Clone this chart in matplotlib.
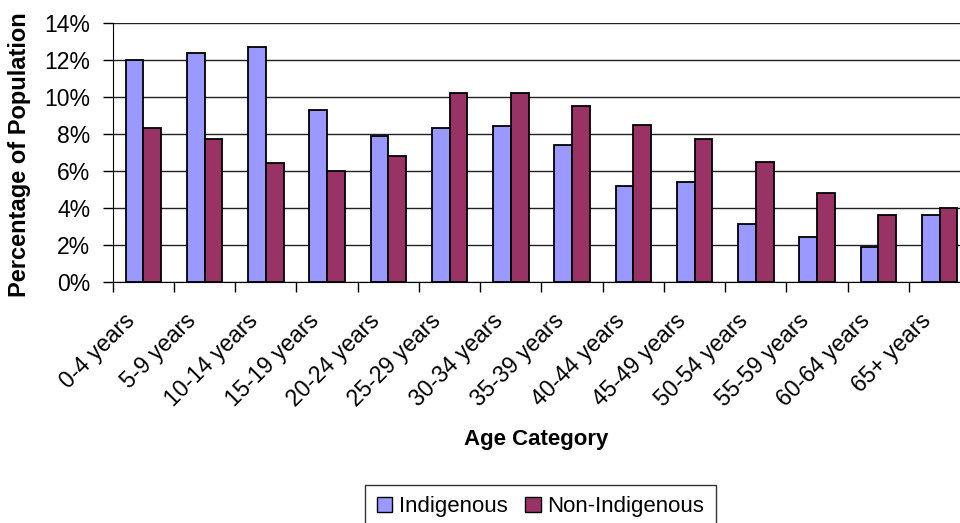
import matplotlib
matplotlib.use("Agg")
import matplotlib.pyplot as plt
import matplotlib.transforms as mtransforms
import numpy as np
from matplotlib.ticker import FuncFormatter, MultipleLocator
from matplotlib.patches import Patch

plt.rcParams['font.family'] = ['Liberation Sans', 'DejaVu Sans']

categories = ["0-4 years", "5-9 years", "10-14 years", "15-19 years", "20-24 years",
              "25-29 years", "30-34 years", "35-39 years", "40-44 years", "45-49 years",
              "50-54 years", "55-59 years", "60-64 years", "65+ years"]
indigenous = [12.0, 12.4, 12.7, 9.3, 7.9, 8.3, 8.4, 7.4, 5.2, 5.4, 3.1, 2.4, 1.9, 3.6]
non_indigenous = [8.3, 7.7, 6.4, 6.0, 6.8, 10.2, 10.2, 9.5, 8.5, 7.7, 6.5, 4.8, 3.6, 4.0]

W, H = 960, 523
fig = plt.figure(figsize=(W / 100, H / 100), dpi=100)
ax = fig.add_axes([112.7 / W, 1 - 281.7 / H, (970.2 - 112.7) / W, (281.7 - 23) / H])

x = np.arange(len(categories))
bw = 0.29
c_ind = "#9999FF"
c_non = "#993366"
ax.bar(x - bw / 2, indigenous, bw, color=c_ind, edgecolor="black", linewidth=1.3, zorder=3)
ax.bar(x + bw / 2, non_indigenous, bw, color=c_non, edgecolor="black", linewidth=1.3, zorder=3)

ax.set_xlim(-0.5, len(categories) - 0.5)
ax.set_ylim(0, 14)
ax.yaxis.set_major_locator(MultipleLocator(2))
ax.yaxis.set_major_formatter(FuncFormatter(lambda v, p: f"{v:.0f}%"))
ax.grid(axis="y", color="#222222", linewidth=1.0, zorder=0)
ax.set_axisbelow(True)

for s in ["top", "right"]:
    ax.spines[s].set_visible(False)
ax.spines["left"].set_color("black")
ax.spines["bottom"].set_color("black")

# boundary ticks between categories, labels at category centres
ax.set_xticks(np.arange(-0.5, len(categories), 1.0))
ax.set_xticklabels([])
ax.tick_params(axis="x", which="major", direction="out", length=7, width=1, color="black")
ax.set_xticks(x, categories, minor=True)
ax.tick_params(axis="x", which="minor", length=0, pad=20, labelsize=16.5)
shift = mtransforms.ScaledTranslation(-0.20, 0, fig.dpi_scale_trans)
for lbl in ax.get_xticklabels(minor=True):
    lbl.set_rotation(45)
    lbl.set_ha("right")
    lbl.set_va("top")
    lbl.set_rotation_mode("anchor")
    lbl.set_transform(lbl.get_transform() + shift)

ax.tick_params(axis="y", direction="out", length=7, width=1, color="black", labelsize=16.5, pad=9)

fig.text(20 / W, 1 - 155 / H, "Percentage of Population", rotation=90,
         ha="center", va="center", fontsize=17, fontweight="bold")
fig.text(536 / W, 1 - 440 / H, "Age Category", ha="center", va="center",
         fontsize=16, fontweight="bold")

handles = [Patch(facecolor=c_ind, edgecolor="black", linewidth=1.0),
           Patch(facecolor=c_non, edgecolor="black", linewidth=1.0)]
leg = fig.legend(handles, ["Indigenous", "Non-Indigenous"], loc="upper center",
                 bbox_to_anchor=(540.5 / W, 1 - 485 / H), ncol=2, fontsize=16,
                 frameon=True, fancybox=False, edgecolor="black",
                 handlelength=0.7, handleheight=0.7, handletextpad=0.3,
                 columnspacing=0.8, borderpad=0.5, borderaxespad=0)
leg.get_frame().set_linewidth(1.0)

fig.savefig("out.png", dpi=100)
